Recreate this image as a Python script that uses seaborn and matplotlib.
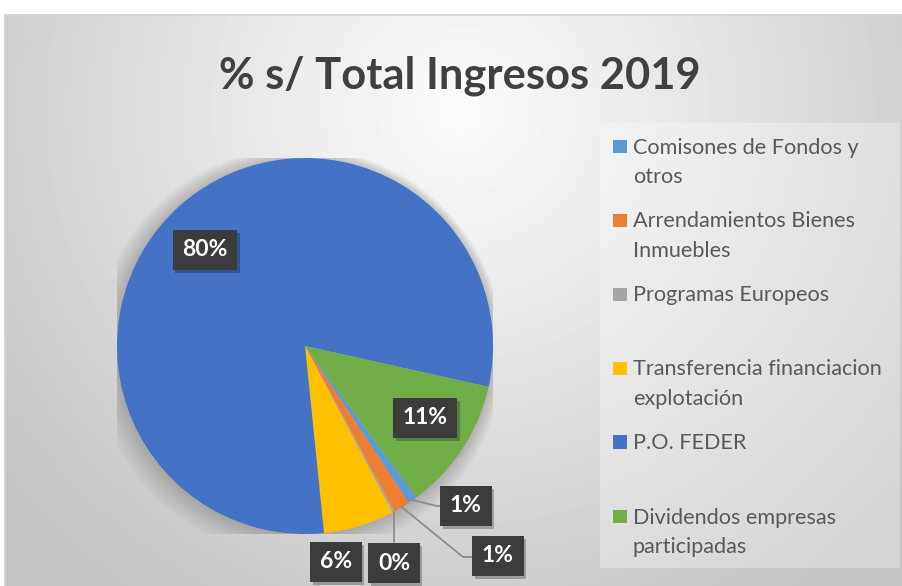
import numpy as np
import matplotlib
matplotlib.use("Agg")
import matplotlib.pyplot as plt
import matplotlib.patheffects as pe
import seaborn as sns
from matplotlib.patches import Rectangle, Circle

# data
categories = [
    "Comisones de Fondos y otros",
    "Arrendamientos Bienes Inmuebles",
    "Programas Europeos",
    "Transferencia financiacion explotación",
    "P.O. FEDER",
    "Dividendos empresas participadas",
]
legend_lines = [
    ["Comisones de Fondos y", "otros"],
    ["Arrendamientos Bienes", "Inmuebles"],
    ["Programas Europeos"],
    ["Transferencia financiacion", "explotación"],
    ["P.O. FEDER"],
    ["Dividendos empresas", "participadas"],
]
shares = [0.8, 1.4, 0.2, 6.1, 80.1, 11.4]
colors = ["#5B9BD5", "#ED7D31", "#A5A5A5", "#FFC000", "#4472C4", "#70AD47"]
title = "% s/ Total Ingresos 2019"

sns.set_theme(style="white")
plt.rcParams["font.family"] = ["Lato", "DejaVu Sans"]

W, H = 903, 586
fig = plt.figure(figsize=(W / 100, H / 100), dpi=100)
fig.patch.set_facecolor("white")

# background with soft radial gradient
bg = fig.add_axes([0, 0, 1, 1], zorder=0)
bg.axis("off")
yy, xx = np.mgrid[15:H, 5:W]
r = np.sqrt(((xx - 460) / 520.0) ** 2 + ((yy - 110) / 520.0) ** 2)
grey = np.clip(252 - 50 * r, 196, 252) / 255.0
bg.imshow(grey, cmap="gray", vmin=0, vmax=1, extent=(5, W, H, 15), aspect="auto")
bg.plot([5, W], [15, 15], color="#cfcfcf", lw=1.2)
bg.plot([5, 5], [15, H], color="#cfcfcf", lw=1.2)
bg.set_xlim(0, W)
bg.set_ylim(H, 0)

# pie
cx, cy, rad = 305, 346, 188
ax = fig.add_axes([(cx - rad) / W, (H - cy - rad) / H, 2 * rad / W, 2 * rad / H], zorder=1)
for k in range(1, 9):
    ax.add_patch(Circle((-0.004 * k, -0.004 * k), 1 + 0.011 * k, color="black",
                        alpha=0.022, lw=0, zorder=0))
wedges, _ = ax.pie(shares, colors=colors, startangle=-53.6, counterclock=False,
                   radius=1, wedgeprops=dict(linewidth=0))
for w in wedges:
    w.set_zorder(2)
ax.set_xlim(-1, 1)
ax.set_ylim(-1, 1)
ax.axis("off")

# overlay for text, legend and leader lines (pixel coords)
ov = fig.add_axes([0, 0, 1, 1], zorder=2)
ov.axis("off")
ov.patch.set_alpha(0)
ov.set_xlim(0, W)
ov.set_ylim(H, 0)

ov.text(460, 89, title, ha="center", va="baseline", fontsize=31.3,
        fontweight="bold", color="#404040")


def edge_point(w):
    th = np.deg2rad((w.theta1 + w.theta2) / 2)
    return cx + rad * np.cos(th), cy - rad * np.sin(th)


# data labels
label_pos = [(466, 506), (498, 556), (394, 563), (336, 562), (205, 250), (425, 418)]
elbows = {0: [(437, 506), (442, 506)], 1: [(463, 557), (473, 557)], 2: []}
for i, (w, v, (lx, ly)) in enumerate(zip(wedges, shares, label_pos)):
    if i in elbows:
        sx, sy = edge_point(w)
        pts = [(sx, sy)] + (elbows[i] if elbows[i] else [(sx, 542)])
        ov.plot([p[0] for p in pts], [p[1] for p in pts], color="#8c8c8c", lw=1.3,
                zorder=3)
    t = ov.text(lx, ly, f"{round(v)}%", ha="center", va="center", fontsize=16.5,
                fontweight="bold", color="white", zorder=4,
                bbox=dict(boxstyle="square,pad=0.42", fc="#3c3c3c", ec="none"))
    t.get_bbox_patch().set_path_effects(
        [pe.SimplePatchShadow(offset=(2, -2), shadow_rgbFace="black", alpha=0.25),
         pe.Normal()])

# legend panel
ov.add_patch(Rectangle((600, 123), 300, 445, fc="white", ec="none", alpha=0.3, zorder=1))
marker_y = [146.7, 220.5, 294.5, 368.5, 442.0, 516.7]
for lines, c, my in zip(legend_lines, colors, marker_y):
    ov.add_patch(Rectangle((613.3, my - 6.7), 13.4, 13.4, fc=c, ec="none", zorder=3))
    for j, line in enumerate(lines):
        ov.text(633, my + 6.8 + j * 29.5, line, ha="left", va="baseline",
                fontsize=15.6, color="#595959", zorder=3)

fig.savefig("out.png", dpi=100)
